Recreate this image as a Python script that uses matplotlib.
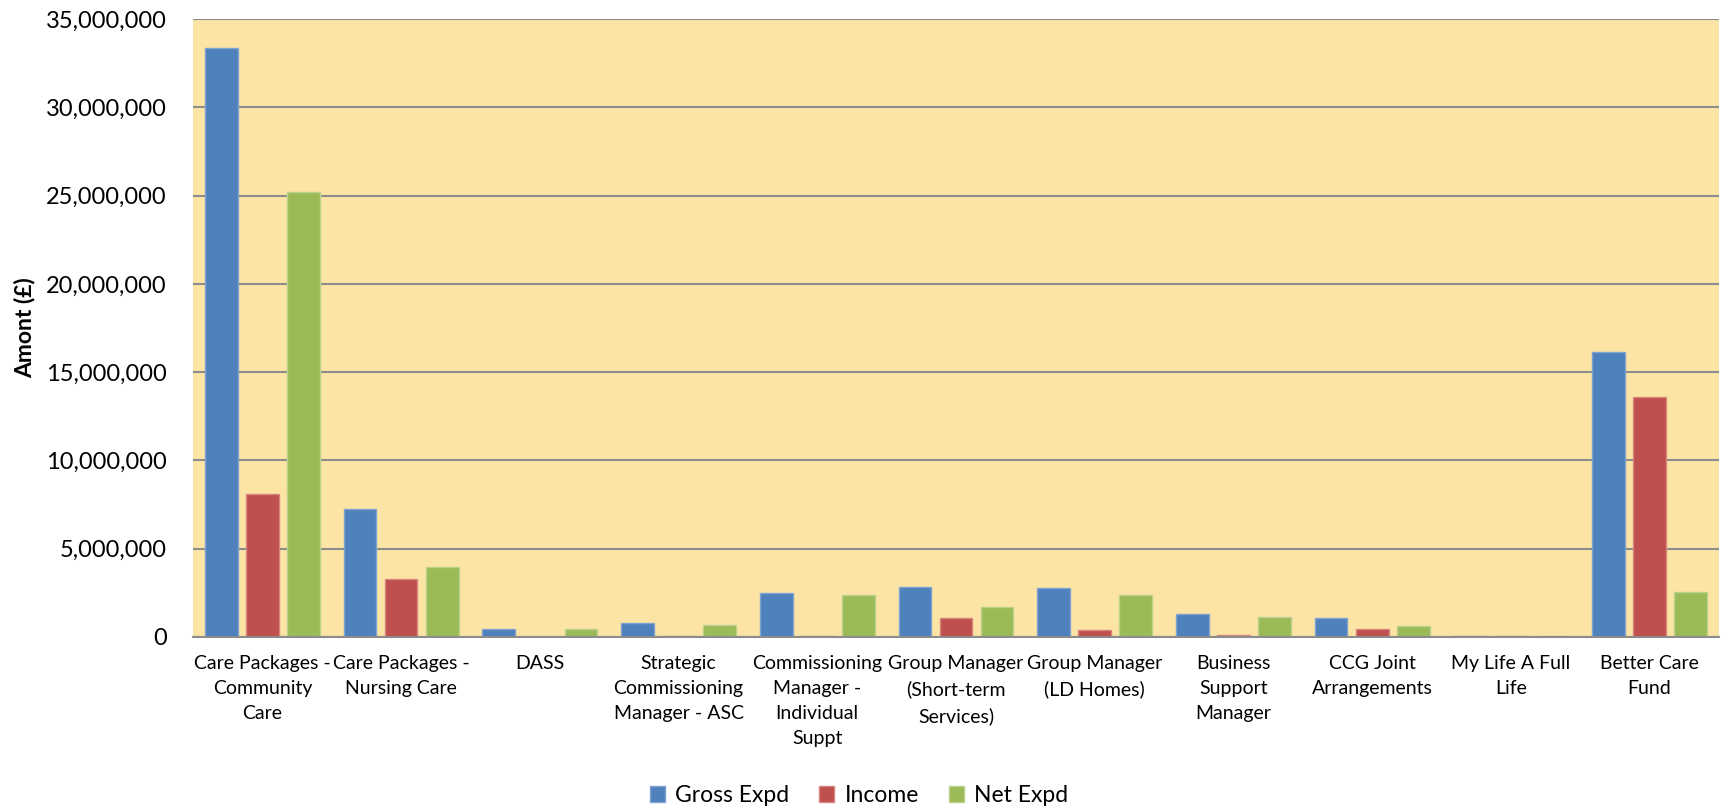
import matplotlib.pyplot as plt
import matplotlib.ticker as ticker
import numpy as np

plt.rcParams['font.family'] = ['Lato', 'DejaVu Sans']

categories = ['Care Packages -\nCommunity\nCare', 'Care Packages -\nNursing Care', 'DASS',
              'Strategic\nCommissioning\nManager - ASC', 'Commissioning\nManager -\nIndividual\nSuppt',
              'Group Manager\n(Short-term\nServices)', 'Group Manager\n(LD Homes)',
              'Business\nSupport\nManager', 'CCG Joint\nArrangements', 'My Life A Full\nLife',
              'Better Care\nFund']
gross = [33350000, 7270000, 470000, 790000, 2490000, 2830000, 2760000, 1290000, 1090000, 70000, 16120000]
income = [8100000, 3270000, 0, 80000, 80000, 1090000, 380000, 120000, 440000, 40000, 13570000]
net = [25200000, 3990000, 440000, 680000, 2380000, 1680000, 2360000, 1130000, 640000, 30000, 2530000]

fig = plt.figure(figsize=(17.25, 8.1), dpi=100)
ax = fig.add_axes([0.1119, 0.2136, 0.8846, 0.7629])
ax.set_facecolor('#FCE4A5')

x = np.arange(len(categories))
w = 0.236
step = 0.296
ax.bar(x - step, gross, w, color='#4F81BD', edgecolor='#7FA3D0', linewidth=1, label='Gross Expd', zorder=3)
ax.bar(x, income, w, color='#C0504D', edgecolor='#D88480', linewidth=1, label='Income', zorder=3)
ax.bar(x + step, net, w, color='#9BBB59', edgecolor='#BCD28C', linewidth=1, label='Net Expd', zorder=3)

ax.set_xlim(-0.5, len(categories) - 0.5)
ax.set_ylim(0, 35000000)
ax.yaxis.set_major_locator(ticker.MultipleLocator(5000000))
ax.yaxis.set_major_formatter(ticker.FuncFormatter(lambda v, p: '{:,.0f}'.format(v)))
ax.grid(axis='y', color='#8C8C8C', linewidth=1.5, zorder=1)
ax.set_axisbelow(True)
for s in ['left', 'right', 'top']:
    ax.spines[s].set_visible(False)
ax.spines['bottom'].set_color('#8C8C8C')
ax.spines['bottom'].set_linewidth(1.5)
ax.spines['bottom'].set_zorder(4)

ax.set_xticks(x)
ax.set_xticklabels(categories, fontsize=14, linespacing=1.58)
ax.tick_params(axis='x', length=0, pad=13)
ax.tick_params(axis='y', length=0, pad=19, labelsize=17)
ax.set_ylabel('Amont (£)', fontsize=16.5, fontweight='bold')
ax.yaxis.set_label_coords(-0.103, 0.5)

fig.legend(loc='center', bbox_to_anchor=(0.498, 0.018), ncol=3, frameon=False,
           fontsize=16.5, handlelength=0.65, handleheight=0.65, columnspacing=1.3, handletextpad=0.45)

plt.savefig('out.png', dpi=100)
